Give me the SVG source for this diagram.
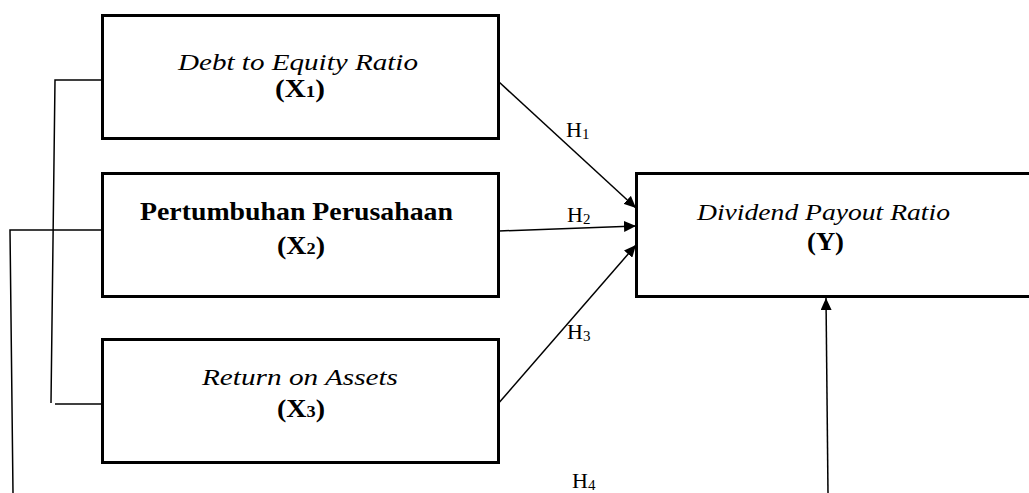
<svg xmlns="http://www.w3.org/2000/svg" width="1029" height="493" viewBox="0 0 1029 493">
<style>
.box{fill:#fff;stroke:#000;stroke-width:3}
.ln{fill:none;stroke:#000;stroke-width:1.5}
.t{font-family:'Liberation Serif','Times New Roman',Times,serif;fill:#000}
.i{font-style:italic;font-size:23px}
.b{font-weight:bold;font-size:26px}
.h{font-family:'Liberation Serif','Times New Roman',Times,serif;font-size:22px;fill:#000}
.sub{font-size:15px}
.bs{font-size:17px}
</style>
<defs>
<marker id="ah" viewBox="0 0 12 12" refX="12" refY="6" markerWidth="12" markerHeight="11" markerUnits="userSpaceOnUse" orient="auto" preserveAspectRatio="none">
<path d="M0,0 L12,6 L0,12 Z" fill="#000"/>
</marker>
</defs>
<rect width="1029" height="493" fill="#fff"/>
<g id="connectors">
<polyline class="ln" points="102,80 55,80 51,403"/>
<line class="ln" x1="55" y1="404" x2="102" y2="404"/>
<polyline class="ln" points="102,230 10,230 13,493"/>
<line class="ln" x1="499" y1="82" x2="636" y2="208" marker-end="url(#ah)"/>
<line class="ln" x1="499" y1="231" x2="636" y2="226" marker-end="url(#ah)"/>
<line class="ln" x1="497" y1="405" x2="636" y2="245" marker-end="url(#ah)"/>
<line class="ln" x1="828" y1="493" x2="826" y2="298" marker-end="url(#ah)"/>
<text class="h" x="566" y="137">H<tspan class="sub" dy="2">1</tspan></text>
<text class="h" x="567" y="222">H<tspan class="sub" dy="2">2</tspan></text>
<text class="h" x="567" y="339">H<tspan class="sub" dy="2">3</tspan></text>
<text class="h" x="572" y="488">H<tspan class="sub" dy="2">4</tspan></text>
</g>
<g id="x1">
<rect class="box" x="102.5" y="15.5" width="396" height="123"/>
<text class="t i" x="178" y="70" textLength="240" lengthAdjust="spacingAndGlyphs">Debt to Equity Ratio</text>
<text class="t b" x="275" y="97" textLength="50" lengthAdjust="spacingAndGlyphs">(X<tspan class="bs">1</tspan>)</text>
</g>
<g id="x2">
<rect class="box" x="102.5" y="173.5" width="396" height="123"/>
<text class="t b" x="140" y="220" textLength="313" lengthAdjust="spacingAndGlyphs">Pertumbuhan Perusahaan</text>
<text class="t b" x="277" y="254" textLength="48" lengthAdjust="spacingAndGlyphs">(X<tspan class="bs">2</tspan>)</text>
</g>
<g id="x3">
<rect class="box" x="102.5" y="339.5" width="396" height="123"/>
<text class="t i" x="202" y="385" textLength="196" lengthAdjust="spacingAndGlyphs">Return on Assets</text>
<text class="t b" x="277" y="417" textLength="48" lengthAdjust="spacingAndGlyphs">(X<tspan class="bs">3</tspan>)</text>
</g>
<g id="y">
<rect class="box" x="636.5" y="173.5" width="410" height="123"/>
<text class="t i" x="697" y="220" textLength="253" lengthAdjust="spacingAndGlyphs">Dividend Payout Ratio</text>
<text class="t b" x="807" y="250" textLength="37" lengthAdjust="spacingAndGlyphs">(Y)</text>
</g>
</svg>
